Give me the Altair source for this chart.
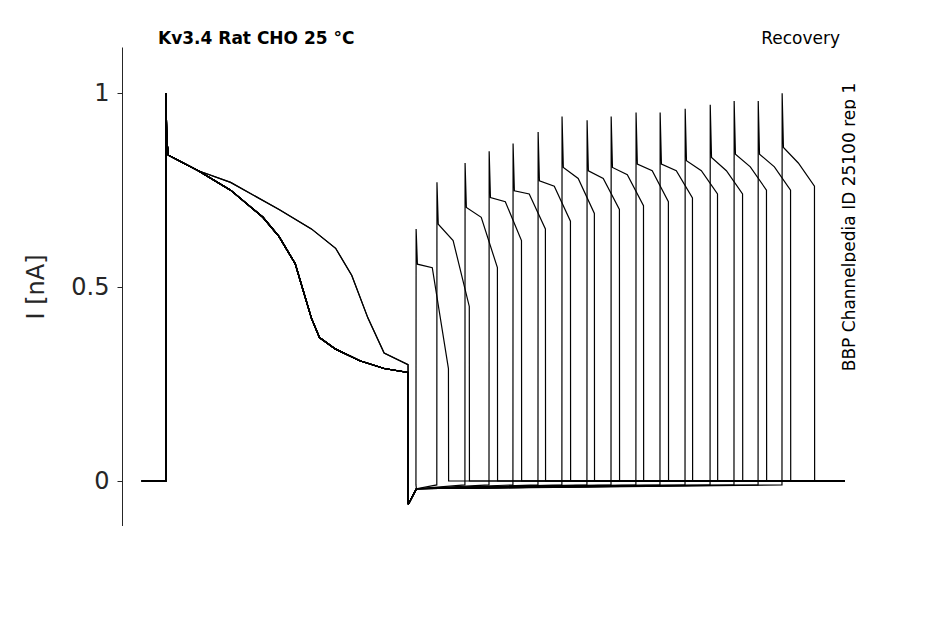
import altair as alt
import pandas as pd

# first pulse profiles (t [s], I [nA])
fast_t = [-0.05, 0.099, 0.1, 0.105, 0.115, 0.3, 0.5, 0.7, 0.8, 0.9, 0.95, 1.0, 1.05, 1.15, 1.3, 1.45, 1.598]
fast_i = [0.0, 0.0, 1.0, 0.88, 0.84, 0.8, 0.75, 0.68, 0.63, 0.56, 0.49, 0.42, 0.37, 0.34, 0.31, 0.29, 0.28]
slow_t = [-0.05, 0.099, 0.1, 0.105, 0.115, 0.3, 0.5, 0.8, 1.0, 1.15, 1.25, 1.35, 1.45, 1.598]
slow_i = [0.0, 0.0, 1.0, 0.88, 0.84, 0.8, 0.77, 0.7, 0.65, 0.6, 0.53, 0.42, 0.33, 0.3]
# recovery (second) pulses
p2_start = [1.648, 1.777, 1.951, 2.10, 2.248, 2.403, 2.551, 2.706, 2.855, 3.009, 3.158, 3.313, 3.468, 3.616, 3.765, 3.913]
p2_peak = [0.65, 0.77, 0.82, 0.85, 0.87, 0.90, 0.94, 0.93, 0.94, 0.95, 0.95, 0.96, 0.97, 0.98, 0.98, 1.0]
p2_mid = [0.55, 0.62, 0.68, 0.72, 0.74, 0.76, 0.78, 0.78, 0.79, 0.8, 0.8, 0.8, 0.8, 0.81, 0.81, 0.82]
p2_end = [0.29, 0.45, 0.55, 0.62, 0.65, 0.67, 0.69, 0.70, 0.71, 0.72, 0.73, 0.74, 0.74, 0.75, 0.75, 0.76]
slow_sweeps = [0, 1]
p2_dur = 0.2

rows = []
for k in range(len(p2_start)):
    prof = (slow_t, slow_i) if k in slow_sweeps else (fast_t, fast_i)
    pts = list(zip(*prof))
    s = p2_start[k]
    pts += [(1.6, -0.06), (1.65, -0.02), (s - 0.001, -0.01), (s, p2_peak[k]),
            (s + 0.008, p2_peak[k] * 0.86), (s + 0.1, p2_mid[k]),
            (s + p2_dur, p2_end[k]), (s + p2_dur + 0.001, 0.0), (4.3, 0.0)]
    for j, (t, i) in enumerate(pts):
        rows.append({"sweep": k, "o": j, "t": t, "I": i})
df = pd.DataFrame(rows)

line = alt.Chart(df).mark_line(color="black", strokeWidth=1.2, clip=True).encode(
    x=alt.X("t:Q", scale=alt.Scale(domain=[-0.172, 4.37], nice=False, zero=False),
            axis=alt.Axis(values=[0.1, 2.05, 4], format="~g", title="t [s]", grid=False)),
    y=alt.Y("I:Q", scale=alt.Scale(domain=[-0.116, 1.119], nice=False),
            axis=alt.Axis(values=[0, 0.5, 1], format="~g", title="I [nA]", grid=False)),
    detail="sweep:N", order="o:Q")

txt = pd.DataFrame({"s": ["Kv3.4  Rat  CHO  25 °C", "Recovery", "BBP Channelpedia ID 25100 rep 1"]})
t1 = alt.Chart(txt.iloc[[0]]).mark_text(align="left", fontWeight="bold", fontSize=17, font="DejaVu Sans").encode(
    x=alt.value(36), y=alt.value(-8), text="s")
t2 = alt.Chart(txt.iloc[[1]]).mark_text(align="right", fontSize=17, font="DejaVu Sans").encode(
    x=alt.value(718), y=alt.value(-8), text="s")
t3 = alt.Chart(txt.iloc[[2]]).mark_text(angle=270, fontSize=17, font="DejaVu Sans").encode(
    x=alt.value(728), y=alt.value(180), text="s")

chart = (line + t1 + t2 + t3).properties(
    width=734, height=479, autosize=alt.AutoSizeParams(type="none"),
    padding={"left": 114, "top": 39, "right": 0, "bottom": 0}
).configure_view(stroke=None).configure_axis(
    labelFontSize=24, titleFontSize=24, labelFont="DejaVu Sans", titleFont="DejaVu Sans",
    labelColor="#262626", titleColor="#262626", domainColor="#262626", tickColor="#262626",
    titleFontWeight="normal", tickSize=5, labelPadding=8
).configure_axisX(titlePadding=8).configure_axisY(titlePadding=22)

chart.save("out.html", embed_options={"renderer": "svg", "actions": False})
